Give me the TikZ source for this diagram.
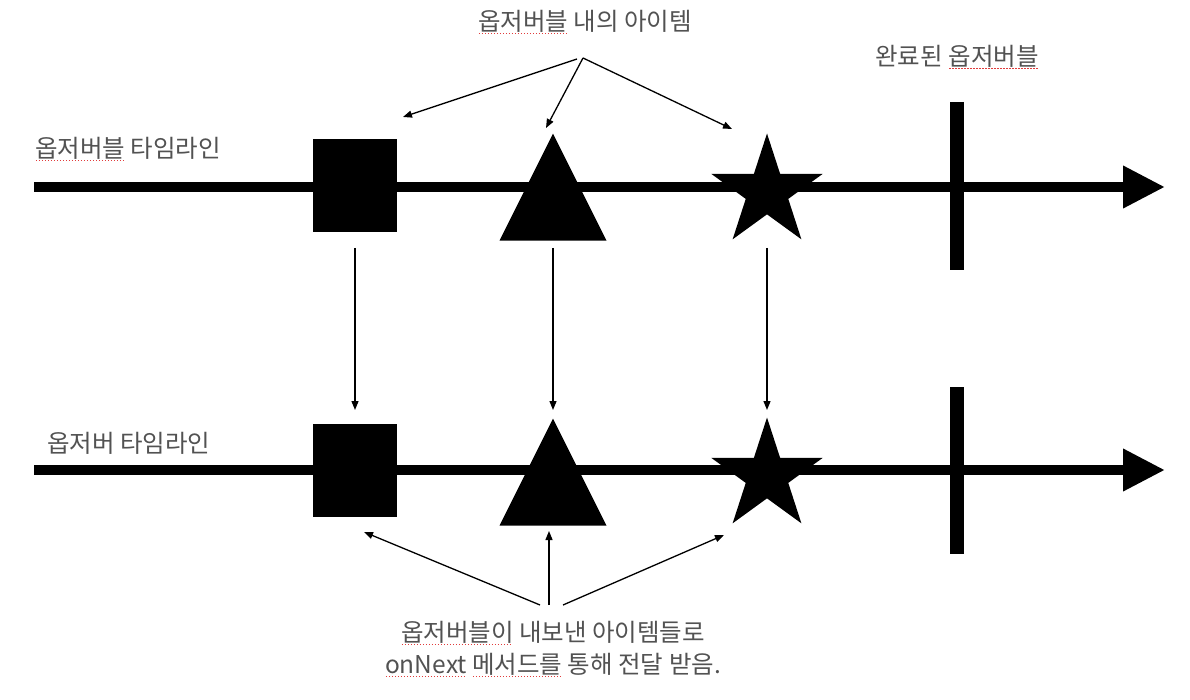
\documentclass[tikz,border=0pt]{standalone}
\usepackage{fontspec}
\usetikzlibrary{arrows.meta,shapes.geometric}
\newfontfamily\krfont{Noto Sans CJK KR}
\definecolor{txtgray}{RGB}{82,82,82}
\definecolor{squigred}{RGB}{225,60,60}
\newcommand\sqline[1]{\setbox0\hbox{#1}\rlap{\raisebox{-3.5pt}{\color{squigred}\leaders\hbox to 3pt{\hss\rule{1.5pt}{1.3pt}\hss}\hskip\wd0}}\box0\relax}
\tikzset{
  lbl/.style={font=\krfont\fontsize{24.5}{32}\selectfont, text=txtgray, inner sep=0pt},
  timeline/.style={line width=10pt, -{Triangle[length=42pt,width=40pt]}},
  donebar/.style={line width=14pt},
  sqbox/.style={fill=black, draw=none, minimum width=84pt, minimum height=93pt, inner sep=0pt},
  tri/.style={isosceles triangle, isosceles triangle stretches, shape border rotate=90, fill=black, minimum width=107pt, minimum height=107pt, inner sep=0pt},
  starshape/.style={star, star points=5, star point ratio=2.618, fill=black, minimum size=117pt, inner sep=0pt},
  thinarrow/.style={line width=1.3pt, -{Triangle[length=9pt,width=7pt]}},
}
\begin{document}
\begin{tikzpicture}[x=1pt,y=-1pt]
\useasboundingbox (0,0) rectangle (1190,700);
% timelines
\coordinate (t1s) at (34,187);
\coordinate (t1e) at (1165,187);
\coordinate (t2s) at (34,470);
\coordinate (t2e) at (1165,470);
\draw[timeline] (t1s) -- (t1e);
\draw[timeline] (t2s) -- (t2e);
% completion bars
\coordinate (b1t) at (957,102);
\coordinate (b1b) at (957,270);
\coordinate (b2t) at (957,387);
\coordinate (b2b) at (957,554);
\draw[donebar] (b1t) -- (b1b);
\draw[donebar] (b2t) -- (b2b);
% top shapes
\node[sqbox] (sq1) at (355,185.5) {};
\node[tri, anchor=apex] (tr1) at (553,133) {};
\node[starshape] (st1) at (767,192) {};
% bottom shapes
\node[sqbox] (sq2) at (355,470.5) {};
\node[tri, anchor=apex] (tr2) at (553,418) {};
\node[starshape] (st2) at (767,476) {};
% labels
\node[lbl] (top) at (585,22) {\sqline{옵저버블} 내의 아이템};
\node[lbl] (done) at (957,57) {완료된 \sqline{옵저버블}};
\node[lbl, anchor=west] (obsl) at (35,149) {\sqline{옵저버블} 타임라인};
\node[lbl, anchor=west] (obrl) at (47,443) {옵저버 타임라인};
\node[lbl, align=center] (bottom) at (553,649) {\sqline{옵저버블이} 내보낸 아이템들로\\\sqline{onNext} \sqline{메서드를} 통해 전달 받음.};
% arrows from top label
\coordinate (tsrc) at (583,58);
\coordinate (tsrcl) at (577,59);
\coordinate (ta1) at (403,117);
\coordinate (ta2) at (546,128);
\coordinate (ta3) at (732,129);
\draw[thinarrow] (tsrcl) -- (ta1);
\draw[thinarrow] (tsrc) -- (ta2);
\draw[thinarrow] (tsrc) -- (ta3);
% vertical arrows
\coordinate (v1a) at (355,248); \coordinate (v1b) at (355,410);
\coordinate (v2a) at (553,248); \coordinate (v2b) at (553,410);
\coordinate (v3a) at (767,248); \coordinate (v3b) at (767,410);
\draw[thinarrow] (v1a) -- (v1b);
\draw[thinarrow] (v2a) -- (v2b);
\draw[thinarrow] (v3a) -- (v3b);
% arrows from bottom label
\coordinate (bs1) at (540,605); \coordinate (be1) at (364,532);
\coordinate (bs2) at (549,605); \coordinate (be2) at (549,531);
\coordinate (bs3) at (563,605); \coordinate (be3) at (724,535);
\draw[thinarrow] (bs1) -- (be1);
\draw[thinarrow] (bs2) -- (be2);
\draw[thinarrow] (bs3) -- (be3);
\end{tikzpicture}
\end{document}
